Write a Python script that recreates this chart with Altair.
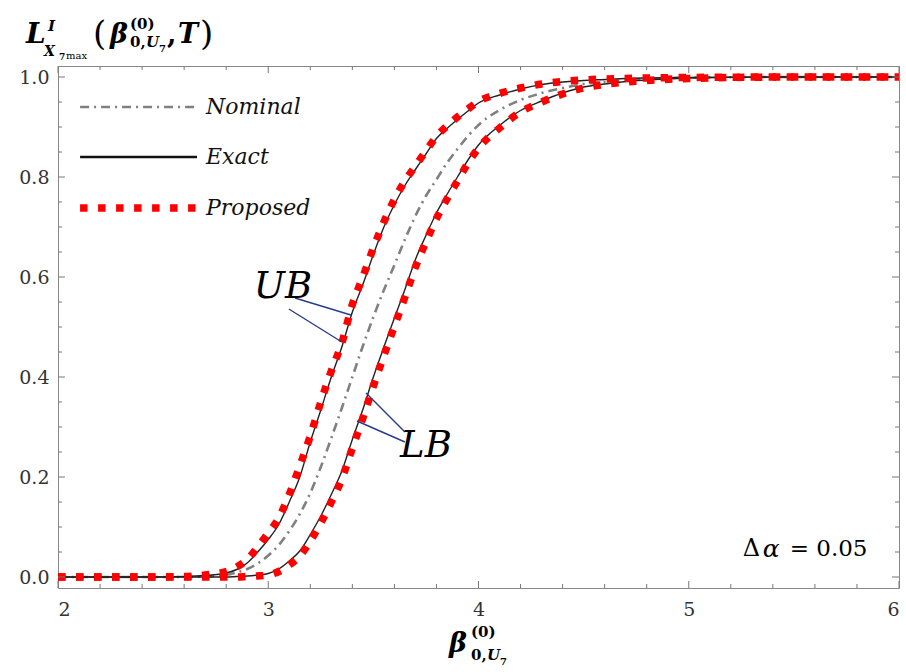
import altair as alt
import pandas as pd

# ---- data ----
x_grid = [2.0, 2.2, 2.4, 2.6, 2.7, 2.8, 2.85, 2.9, 2.95, 3.0, 3.05, 3.1, 3.15, 3.2, 3.25, 3.3,
          3.35, 3.4, 3.45, 3.5, 3.55, 3.6, 3.65, 3.7, 3.75, 3.8, 3.85, 3.9, 3.95, 4.0, 4.1,
          4.2, 4.3, 4.4, 4.5, 4.6, 4.7, 4.8, 5.0, 5.5, 6.0]
nominal = [0, 0, 0, 0, 0.001, 0.004, 0.009, 0.016, 0.027, 0.043, 0.064, 0.092, 0.126, 0.168,
           0.22, 0.278, 0.338, 0.40, 0.462, 0.52, 0.574, 0.624, 0.675, 0.722, 0.762, 0.795,
           0.828, 0.856, 0.882, 0.904, 0.934, 0.954, 0.968, 0.978, 0.986, 0.99, 0.994, 0.996,
           0.999, 1.0, 1.0]
ub_exact = [0, 0, 0, 0.001, 0.003, 0.008, 0.015, 0.028, 0.05, 0.075, 0.105, 0.15, 0.20, 0.27,
            0.334, 0.40, 0.46, 0.53, 0.585, 0.645, 0.70, 0.745, 0.783, 0.815, 0.846, 0.877,
            0.897, 0.915, 0.932, 0.948, 0.964, 0.976, 0.985, 0.99, 0.993, 0.995, 0.997, 0.998,
            0.999, 1.0, 1.0]
lb_exact = [0, 0, 0, 0, 0, 0, 0.001, 0.002, 0.004, 0.007, 0.016, 0.032, 0.052, 0.085, 0.122,
            0.165, 0.212, 0.275, 0.335, 0.40, 0.46, 0.518, 0.575, 0.635, 0.683, 0.728, 0.765,
            0.80, 0.834, 0.864, 0.903, 0.933, 0.952, 0.968, 0.98, 0.986, 0.991, 0.994, 0.998,
            1.0, 1.0]
ub_proposed = [0, 0, 0, 0.001, 0.004, 0.011, 0.02, 0.035, 0.06, 0.088, 0.118, 0.165, 0.222,
               0.282, 0.35, 0.412, 0.468, 0.545, 0.60, 0.658, 0.71, 0.755, 0.792, 0.822, 0.852,
               0.881, 0.902, 0.92, 0.936, 0.951, 0.967, 0.978, 0.986, 0.991, 0.994, 0.996,
               0.997, 0.998, 0.999, 1.0, 1.0]
lb_proposed = [0, 0, 0, 0, 0, 0, 0, 0.001, 0.002, 0.004, 0.011, 0.024, 0.042, 0.072, 0.108,
               0.15, 0.196, 0.258, 0.318, 0.382, 0.443, 0.502, 0.56, 0.62, 0.67, 0.717, 0.756,
               0.792, 0.828, 0.858, 0.898, 0.93, 0.95, 0.966, 0.978, 0.985, 0.99, 0.993, 0.997,
               1.0, 1.0]

x_ticks = [2, 3, 4, 5, 6]
y_ticks = [0.0, 0.2, 0.4, 0.6, 0.8, 1.0]
x_minor = [2.2, 2.4, 2.6, 2.8, 3.2, 3.4, 3.6, 3.8, 4.2, 4.4, 4.6, 4.8, 5.2, 5.4, 5.6, 5.8]
y_minor = [0.05, 0.1, 0.15, 0.25, 0.3, 0.35, 0.45, 0.5, 0.55, 0.65, 0.7, 0.75, 0.85, 0.9, 0.95]

legend_labels = ["Nominal", "Exact", "Proposed"]
legend_y = [0.94, 0.84, 0.738]
legend_x = [2.105, 2.661]
legend_text_x = 2.704

ub_label = {"t": "UB", "x": 3.07, "y": 0.58}
lb_label = {"t": "LB", "x": 3.75, "y": 0.262}
ub_arrows = [[3.127, 0.558, 3.393, 0.524], [3.098, 0.536, 3.350, 0.47]]
lb_arrows = [[3.465, 0.368, 3.650, 0.29], [3.422, 0.312, 3.650, 0.27]]
delta_parts = ["Δ", "α", "= 0.05"]
delta_x = [5.257, 5.352, 5.48]
delta_y = 0.056

W, H = 841, 522
SERIF = "DejaVu Serif"

xs = alt.Scale(domain=[2, 6], nice=False, zero=False)
ys = alt.Scale(domain=[-0.022, 1.022], nice=False, zero=False)

x_axis = alt.Axis(values=x_ticks, format="d", labelFont=SERIF, labelFontSize=19,
                  labelColor="#333", ticks=False, tickSize=0, domain=False, grid=False,
                  title=None, labelPadding=12)
y_axis = alt.Axis(values=y_ticks, format=".1f", labelFont=SERIF, labelFontSize=19,
                  labelColor="#333", ticks=False, tickSize=0, domain=False, grid=False,
                  title=None, labelPadding=9)

def X(f):
    return alt.X(f, scale=xs, axis=x_axis)

def Y(f):
    return alt.Y(f, scale=ys, axis=y_axis)

def curve_df(names, arrays):
    rows = []
    for n, arr in zip(names, arrays):
        for xv, yv in zip(x_grid, arr):
            rows.append({"x": xv, "y": yv, "c": n})
    return pd.DataFrame(rows)

df_nom = curve_df(["nom"], [nominal])
df_exact = curve_df(["ub", "lb"], [ub_exact, lb_exact])
df_prop = curve_df(["ub", "lb"], [ub_proposed, lb_proposed])

nom_line = alt.Chart(df_nom).mark_line(color="#808080", strokeWidth=2.6,
                                       strokeDash=[9, 5, 2, 5], interpolate="monotone").encode(
    x=X("x:Q"), y=Y("y:Q"), detail="c:N")
exact_line = alt.Chart(df_exact).mark_line(color="#222", strokeWidth=1.4,
                                           interpolate="monotone").encode(
    x=X("x:Q"), y=Y("y:Q"), detail="c:N")
prop_line = alt.Chart(df_prop).mark_line(color="#ff0000", strokeWidth=7.5,
                                         strokeDash=[7.5, 10.5], strokeCap="butt",
                                         interpolate="monotone").encode(
    x=X("x:Q"), y=Y("y:Q"), detail="c:N")

# inward frame ticks on all four sides
def xticks(vals, length):
    d = pd.DataFrame({"v": vals})
    b = alt.Chart(d).mark_rule(color="#777", strokeWidth=1).encode(
        x=X("v:Q"), y=alt.value(H), y2=alt.value(H - length))
    t = alt.Chart(d).mark_rule(color="#777", strokeWidth=1).encode(
        x=X("v:Q"), y=alt.value(0), y2=alt.value(length))
    return [b, t]

def yticks(vals, length):
    d = pd.DataFrame({"v": vals})
    l = alt.Chart(d).mark_rule(color="#777", strokeWidth=1).encode(
        y=Y("v:Q"), x=alt.value(0), x2=alt.value(length))
    r = alt.Chart(d).mark_rule(color="#777", strokeWidth=1).encode(
        y=Y("v:Q"), x=alt.value(W), x2=alt.value(W - length))
    return [l, r]

tick_layers = xticks(x_ticks, 7) + xticks(x_minor, 4) + yticks(y_ticks, 7) + yticks(y_minor, 4)

# legend (drawn inside the plot)
leg_nom = alt.Chart(pd.DataFrame({"x": legend_x, "y": [legend_y[0]] * 2})).mark_line(
    color="#808080", strokeWidth=2.6, strokeDash=[9, 5, 2, 5]).encode(x=X("x:Q"), y=Y("y:Q"))
leg_exact = alt.Chart(pd.DataFrame({"x": legend_x, "y": [legend_y[1]] * 2})).mark_line(
    color="#111", strokeWidth=2.6).encode(x=X("x:Q"), y=Y("y:Q"))
leg_prop = alt.Chart(pd.DataFrame({"x": legend_x, "y": [legend_y[2]] * 2})).mark_line(
    color="#ff0000", strokeWidth=7.5, strokeDash=[7.5, 10.5], strokeCap="butt").encode(
    x=X("x:Q"), y=Y("y:Q"))
leg_text = alt.Chart(pd.DataFrame({"t": legend_labels, "y": legend_y,
                                   "x": [legend_text_x] * 3})).mark_text(
    font=SERIF, fontSize=22, fontStyle="italic", align="left", baseline="middle",
    color="#111").encode(x=X("x:Q"), y=Y("y:Q"), text="t:N")

# UB / LB annotations
def arrow_layer(arrs):
    d = pd.DataFrame([{"x": a[0], "y": a[1], "x2": a[2], "y2": a[3]} for a in arrs])
    return alt.Chart(d).mark_rule(color="#2b3a8f", strokeWidth=1.4).encode(
        x=X("x:Q"), y=Y("y:Q"), x2="x2:Q", y2="y2:Q")

lab_df = pd.DataFrame([ub_label, lb_label])
labels = alt.Chart(lab_df).mark_text(font=SERIF, fontSize=37, fontStyle="italic",
                                     align="center", baseline="middle", color="#000").encode(
    x=X("x:Q"), y=Y("y:Q"), text="t:N")

delta_df = pd.DataFrame({"t": delta_parts, "x": delta_x, "y": [delta_y] * 3,
                         "s": ["normal", "italic", "normal"], "z": [24, 25, 23]})
delta_layers = []
for i in range(3):
    delta_layers.append(alt.Chart(delta_df.iloc[[i]]).mark_text(
        font=SERIF, fontSize=int(delta_df["z"][i]), fontStyle=delta_df["s"][i], align="left",
        baseline="middle", color="#000").encode(x=X("x:Q"), y=Y("y:Q"), text="t:N"))

# math titles, as pieces of real text (pixel positions relative to plot origin)
def piece(t, x, y, size, style="normal", weight="normal"):
    return alt.Chart(pd.DataFrame({"t": [t]})).mark_text(
        font=SERIF, fontSize=size, fontStyle=style, fontWeight=weight, align="left",
        baseline="alphabetic", color="#000").encode(
        x=alt.value(x), y=alt.value(y), text="t:N")

title_layers = [
    piece("L", -32, -23, 28, "italic", "bold"),
    piece("I", -10, -35, 15, "italic", "bold"),
    piece("X", -14, -10, 14, "italic", "bold"),
    piece("7", 1, -6, 9, "normal", "bold"),
    piece("max", 8, -7, 10, "normal", "normal"),
    piece("(", 35, -21, 34, "normal", "normal"),
    piece("β", 52, -23, 27, "italic", "bold"),
    piece("(0)", 72, -37, 15, "normal", "bold"),
    piece("0,", 72, -19, 15, "normal", "bold"),
    piece("U", 88, -19, 15, "italic", "bold"),
    piece("7", 101, -14, 10, "normal", "bold"),
    piece(",", 109, -23, 27, "normal", "bold"),
    piece("T", 120, -23, 27, "italic", "bold"),
    piece(")", 142, -21, 34, "normal", "normal"),
    # x-axis title
    piece("β", 391, 586, 27, "italic", "bold"),
    piece("(0)", 413, 571, 15, "normal", "bold"),
    piece("0,", 413, 594, 15, "normal", "bold"),
    piece("U", 429, 594, 15, "italic", "bold"),
    piece("7", 442, 599, 10, "normal", "bold"),
]

chart = alt.layer(
    nom_line, exact_line, prop_line, *tick_layers,
    leg_nom, leg_exact, leg_prop, leg_text,
    arrow_layer(ub_arrows), arrow_layer(lb_arrows), labels, *delta_layers,
    *title_layers,
).properties(
    width=W, height=H,
    padding={"left": 58, "top": 66, "right": 7, "bottom": 84},
    autosize=alt.AutoSizeParams(type="none"),
    background="white",
).configure_view(stroke="#888", strokeWidth=1).configure_axis(
    labelFont=SERIF, labelFontSize=19, labelColor="#333"
)

chart.save("out.html", embed_options={"renderer": "svg", "actions": False})
